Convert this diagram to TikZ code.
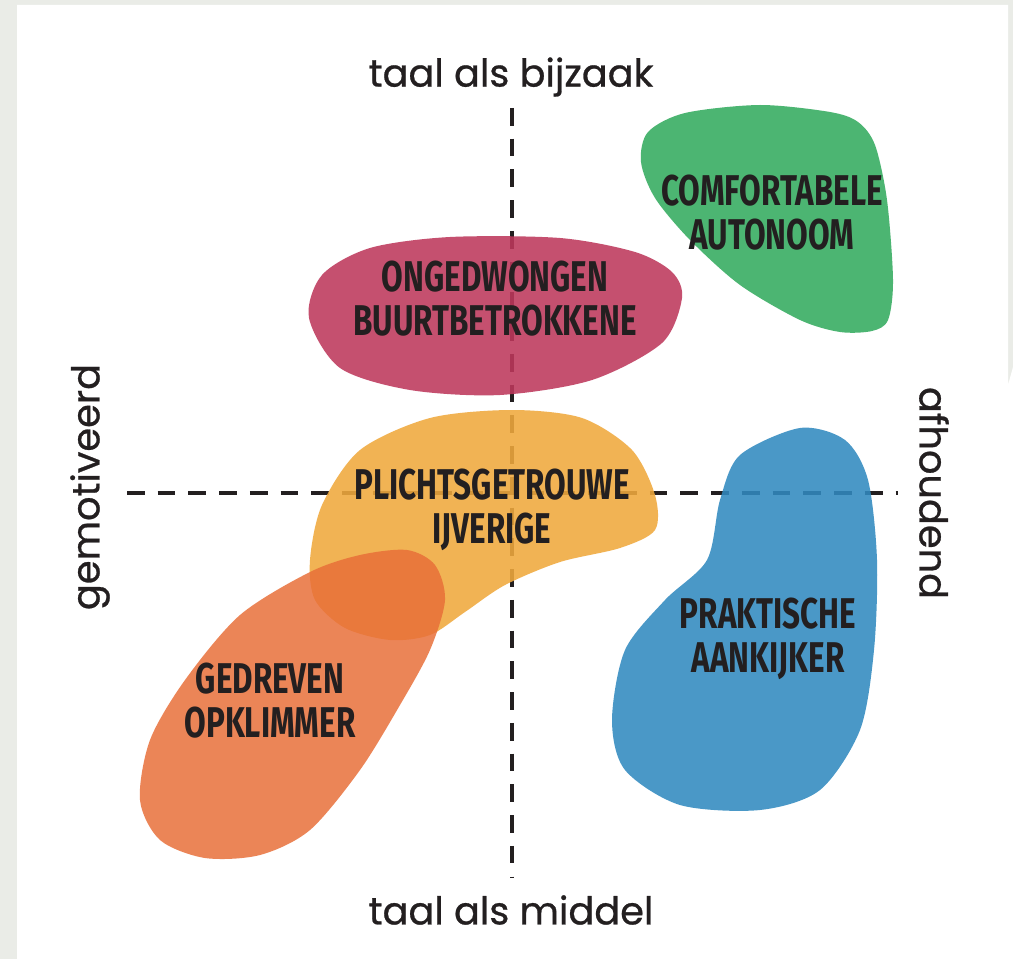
\documentclass[tikz,border=0pt]{standalone}
\usepackage{fontspec}
\setmainfont{Poppins}[FakeBold=0.7]
\newfontfamily\groupfont[FakeStretch=0.73]{Fira Sans}
\usetikzlibrary{positioning}
\definecolor{paper}{HTML}{EAECE7}
\definecolor{darktext}{HTML}{231F20}
\definecolor{greenblob}{HTML}{34AB5F}
\definecolor{pinkblob}{HTML}{BE385C}
\definecolor{yellowblob}{HTML}{F0A93D}
\definecolor{orangeblob}{HTML}{E86E38}
\definecolor{blueblob}{HTML}{318AC0}

\begin{document}
\begin{tikzpicture}[x=0.02cm, y=-0.02cm,
  axis/.style={line width=2pt, darktext, dash pattern=on 10pt off 7.5pt},
  blob/.style={fill opacity=0.88},
  group/.style={font=\groupfont\bfseries\fontsize{24.5}{25}\selectfont,
                text=darktext, align=center, inner sep=0pt},
  pole/.style={font=\fontsize{21.8}{24}\selectfont, text=darktext, inner sep=0pt}]

\useasboundingbox (0,0) rectangle (1013,959);
\fill[paper] (0,0) rectangle (1013,959);
\fill[white] (17,5) -- (1008,5) -- (1008,385) -- (1013,367)
  -- (1013,959) -- (17,959) -- cycle;

% axes
\coordinate (top) at (512,108);
\coordinate (bottom) at (512,878);
\coordinate (left) at (127,493);
\coordinate (right) at (898,493);
\draw[axis] (top) -- (bottom);
\draw[axis] (left) -- (right);

% blobs
\fill[blob, greenblob] plot[smooth cycle] coordinates {
  (641,162) (648,132) (685,113) (760,105) (830,112) (858,122) (875,145)
  (887,200) (893,280) (888,320) (872,331) (840,332) (800,320) (740,285)
  (690,240) (655,198)};
\fill[blob, pinkblob] plot[smooth cycle] coordinates {
  (309,318) (322,275) (370,248) (450,237) (560,238) (635,252) (672,272)
  (682,298) (662,343) (592,380) (500,395) (410,390) (340,368)};
\fill[blob, yellowblob] plot[smooth cycle] coordinates {
  (512,410) (582,418) (632,450) (655,495) (655,530) (620,548) (560,562)
  (505,585) (465,612) (430,635) (390,640) (345,628) (315,600) (310,560)
  (322,505) (360,450) (430,418)};
\fill[orangeblob, fill opacity=0.84] plot[smooth cycle] coordinates {
  (407,550) (435,565) (445,600) (430,650) (400,705) (360,770) (310,830)
  (260,855) (205,858) (160,840) (140,800) (150,740) (185,680) (240,615)
  (310,572) (360,555)};
\fill[blob, blueblob] plot[smooth cycle] coordinates {
  (800,428) (845,440) (868,480) (877,560) (874,650) (860,730) (820,790)
  (760,810) (680,805) (625,770) (612,720) (625,650) (665,600) (707,560)
  (720,500) (740,455)};

% group labels
\node[group] (comfort) at (772,213) {COMFORTABELE\\AUTONOOM};
\node[group] (buurt) at (495,299) {ONGEDWONGEN\\BUURTBETROKKENE};
\node[group] (plicht) at (492,510) {PLICHTSGETROUWE\\IJVERIGE};
\node[group] (praktisch) at (768,639) {PRAKTISCHE\\AANKIJKER};
\node[group] (gedreven) at (270,701) {GEDREVEN\\OPKLIMMER};

% axis labels
\node[pole] (bijzaak) at (511,77) {taal als bijzaak};
\node[pole] (middel) at (511,910) {taal als middel};
\node[pole, rotate=90] (gemotiveerd) at (90,487) {gemotiveerd};
\node[pole, rotate=-90] (afhoudend) at (934,493) {afhoudend};
\end{tikzpicture}
\end{document}
